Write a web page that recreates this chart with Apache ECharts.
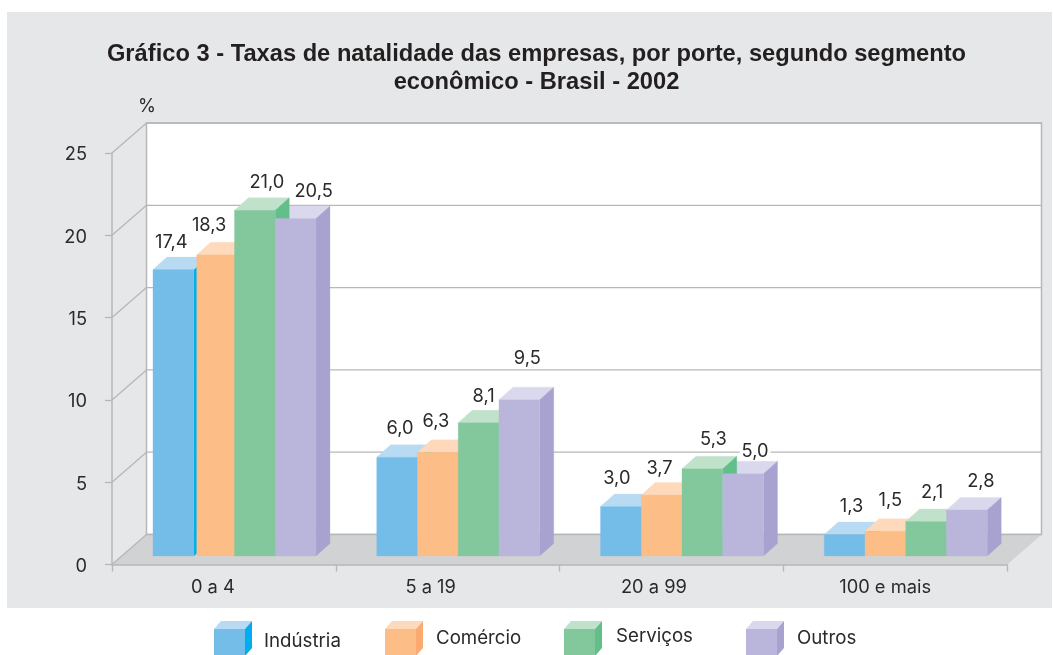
<!DOCTYPE html>
<html>
<head>
<meta charset="utf-8">
<style>html,body{margin:0;padding:0;background:#fff}#c{width:1053px;height:655px}</style>
<script src="https://cdn.jsdelivr.net/npm/echarts@6/dist/echarts.min.js"></script>
</head>
<body>
<div id="c"></div>
<script>
// ---- data ----
const categories = ['0 a 4', '5 a 19', '20 a 99', '100 e mais'];
const yTicks = [0, 5, 10, 15, 20, 25];
const industria = [17.4, 6.0, 3.0, 1.3];
const comercio = [18.3, 6.3, 3.7, 1.5];
const servicos = [21.0, 8.1, 5.3, 2.1];
const outros = [20.5, 9.5, 5.0, 2.8];
const seriesNames = ['Indústria', 'Comércio', 'Serviços', 'Outros'];
const titleText = 'Gráfico 3 - Taxas de natalidade das empresas, por porte, segundo segmento\neconômico - Brasil - 2002';

// ---- layout and style ----
const seriesValues = [industria, comercio, servicos, outros];
const palette = [
  { front: '#74bde9', top: '#b9daf3', side: '#00aeef' },
  { front: '#fdbd87', top: '#fed9bc', side: '#fbaa72' },
  { front: '#83c89d', top: '#c0e2cb', side: '#62bf8a' },
  { front: '#bab6db', top: '#dad8ec', side: '#a7a2d0' }
];
const FONT = 'Inter, "Liberation Sans", sans-serif';
const TITLE_FONT = '"Liberation Sans", Arial, sans-serif';
const FS = 18.3, FS_LEGEND = 18.7, TEXT_DY = 1.5;
const INK = '#2b2a2b', LINE = '#b6b7b9', PANEL = '#e6e7e9', FLOOR = '#d1d2d4';
const WALL_DX = 34.5, WALL_DY = 30;      // depth of the plot box
const BAR_W = 40.75, BAR_SHIFT = 10.6, BAR_LIFT = 8.5; // bars stand inside the floor
const DEPTH_X = 14, DEPTH_Y = 12.5;      // depth of a bar
// hand placed label offsets in the original, [series][category], from front-face centre / top
const labelDX = [[-2, 3, -4, 7], [-5, -2, -2, 5], [12, 5, 11, 6], [18, 8, 12, 14]];
const labelDY = [[-29, -30, -30, -30], [-31, -32, -28, -32], [-29, -28, -31, -30], [-29, -43, -24, -30]];
const axisLabelPad = [22, 34, 35, 20];   // off-centre category labels
const insetBars = { series: 1, category: 0, px: 3 }; // narrower orange bar in first group

function poly(points, fill, z2) {
  return { type: 'polygon', shape: { points }, style: { fill, stroke: fill, lineWidth: 0.3 }, z2, silent: true };
}
function wallItem(params, api) {
  const g = params.coordSys, bottom = g.y + g.height, right = g.x + g.width;
  return { type: 'group', children: [
    { type: 'rect', shape: { x: g.x + WALL_DX, y: g.y - WALL_DY, width: g.width, height: g.height },
      style: { fill: '#fff', stroke: LINE, lineWidth: 1.5 }, z2: 0 },
    poly([[g.x, bottom], [right, bottom], [right + WALL_DX, bottom - WALL_DY], [g.x + WALL_DX, bottom - WALL_DY]], FLOOR, 1)
  ] };
}
function gridItem(params, api) {
  const g = params.coordSys, y = api.coord([0, api.value(1)])[1];
  const st = { stroke: LINE, lineWidth: 1.3 };
  return { type: 'group', children: [
    { type: 'line', shape: { x1: g.x + WALL_DX, y1: y - WALL_DY, x2: g.x + g.width + WALL_DX, y2: y - WALL_DY }, style: st, z2: 2 },
    { type: 'line', shape: { x1: g.x, y1: y, x2: g.x + WALL_DX, y2: y - WALL_DY }, style: st, z2: 2 }
  ] };
}
function barRenderer(si) {
  return function (params, api) {
    const cat = api.value(0), val = api.value(1), c = palette[si];
    const center = api.coord([cat, 0])[0];
    const base = api.coord([cat, 0])[1] - BAR_LIFT;
    const top = api.coord([cat, val])[1] - BAR_LIFT;
    const x1base = center + (si - 2) * BAR_W + BAR_SHIFT;
    const x2 = x1base + BAR_W;
    const x1 = x1base + (si === insetBars.series && cat === insetBars.category ? insetBars.px : 0);
    // a side face only shows over the next bar's top when this bar is the taller one
    const next = seriesValues[si + 1];
    const sideZ = next && next[cat] > val ? 5 + si : 20 + si;
    return { type: 'group', children: [
      poly([[x1, top], [x2, top], [x2 + DEPTH_X, top - DEPTH_Y], [x1 + DEPTH_X, top - DEPTH_Y]], c.top, 10 + si),
      poly([[x2, top], [x2 + DEPTH_X, top - DEPTH_Y], [x2 + DEPTH_X, base - DEPTH_Y], [x2, base]], c.side, sideZ),
      poly([[x1, top], [x2, top], [x2, base], [x1, base]], c.front, 30 + si),
      { type: 'text', z2: 50, silent: true, style: {
          text: val.toFixed(1).replace('.', ','),
          x: (x1base + x2) / 2 + labelDX[si][cat], y: top + labelDY[si][cat] + TEXT_DY,
          align: 'center', verticalAlign: 'middle', fill: INK, font: FS + 'px ' + FONT,
          backgroundColor: '#fff', padding: [0, 2] } }
    ] };
  };
}

// legend cubes
const legendX = [214, 385, 564, 746];
const legendTextX = [264, 436, 616, 797];
const legendTextY = [641, 638, 636, 638];
const legendGraphic = [];
seriesNames.forEach((n, i) => {
  const x = legendX[i], c = palette[i], w = 31, yT = 629, yB = 656, dx = 7, dy = 8;
  legendGraphic.push(
    { type: 'polygon', shape: { points: [[x, yT], [x + w, yT], [x + w + dx, yT - dy], [x + dx, yT - dy]] }, style: { fill: c.top } },
    { type: 'polygon', shape: { points: [[x + w, yT], [x + w + dx, yT - dy], [x + w + dx, yB - dy], [x + w, yB]] }, style: { fill: c.side } },
    { type: 'rect', shape: { x, y: yT, width: w, height: yB - yT }, style: { fill: c.front } },
    { type: 'text', x: legendTextX[i], y: legendTextY[i], style: { text: n, fill: INK, font: FS_LEGEND + 'px ' + FONT, align: 'left', verticalAlign: 'middle' } }
  );
});

const chart = echarts.init(document.getElementById('c'), null, { renderer: 'canvas' });
const rich = {};
axisLabelPad.forEach((p, i) => { rich['c' + i] = { padding: [0, p, 0, 0], fontSize: FS, fontFamily: FONT, color: INK }; });

chart.setOption({
  animation: false,
  backgroundColor: '#fff',
  title: {
    text: titleText, left: 531.5, top: 35, textAlign: 'center',
    textStyle: { fontFamily: TITLE_FONT, fontWeight: 'bold', fontSize: 23.7, lineHeight: 28, color: '#231f20' }
  },
  graphic: [
    { type: 'rect', z: -10, shape: { x: 7, y: 12, width: 1045, height: 596 }, style: { fill: PANEL } },
    { type: 'text', z: 10, x: 147, y: 107, style: { text: '%', fill: INK, font: FS + 'px ' + FONT, align: 'center', verticalAlign: 'middle' } }
  ].concat(legendGraphic),
  grid: { left: 112, top: 153, width: 895, height: 411.5, containLabel: false },
  xAxis: {
    type: 'category', data: categories, z: 5,
    axisLine: { lineStyle: { color: LINE, width: 1.5 } },
    axisTick: { show: true, length: 7, alignWithLabel: false, lineStyle: { color: LINE, width: 1.3 } },
    axisLabel: {
      interval: 0, margin: 14, color: INK, fontFamily: FONT, fontSize: FS,
      formatter: (v, i) => '{c' + i + '|' + v + '}', rich
    },
    splitLine: { show: false }
  },
  yAxis: {
    type: 'value', min: 0, max: 25, interval: 5, z: 5,
    axisLine: { show: true, lineStyle: { color: LINE, width: 1.5 } },
    axisTick: { show: true, length: 7, lineStyle: { color: LINE, width: 1.3 } },
    axisLabel: {
      margin: 25, color: INK, fontFamily: FONT, fontSize: FS,
      formatter: v => '{t|' + v + '}',
      rich: { t: { padding: [4, 0, 0, 0], fontSize: FS, fontFamily: FONT, color: INK } }
    },
    splitLine: { show: false }
  },
  series: [
    { type: 'custom', name: 'wall', z: 1, clip: false, silent: true, renderItem: wallItem, data: [[0, 0]] },
    { type: 'custom', name: 'grid', z: 1, clip: false, silent: true, renderItem: gridItem, data: yTicks.map(v => [0, v]) }
  ].concat(seriesNames.map((name, si) => ({
    type: 'custom', name, z: 2, clip: false, renderItem: barRenderer(si),
    encode: { x: 0, y: 1 },
    data: seriesValues[si].map((v, c) => [c, v])
  })))
});
</script>
</body>
</html>
